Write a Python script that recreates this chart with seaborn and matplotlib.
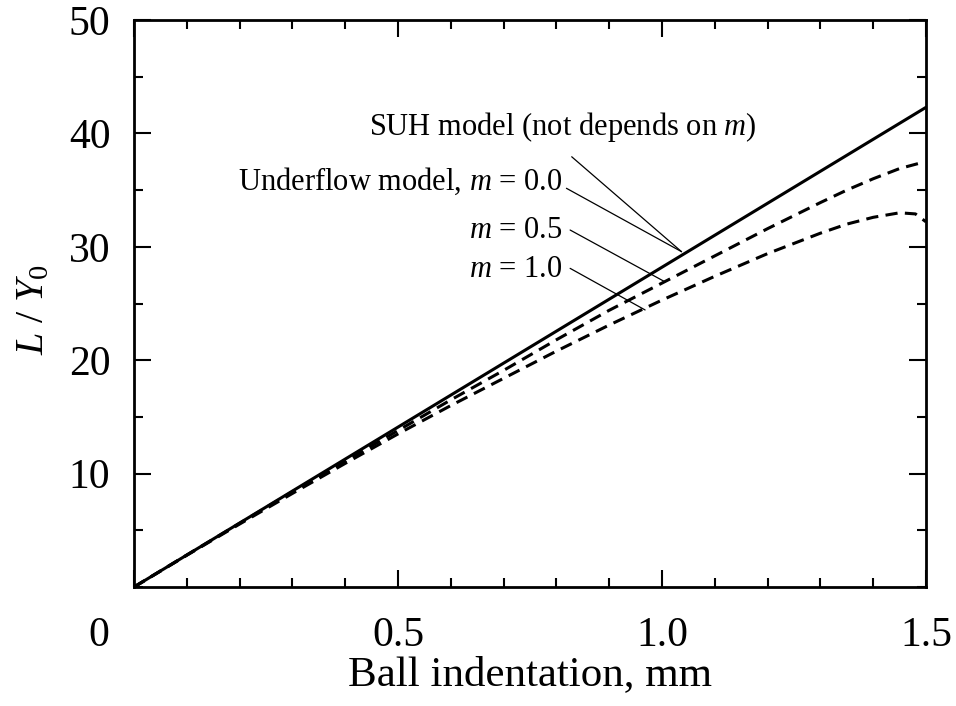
import numpy as np
import pandas as pd
import matplotlib
matplotlib.use("Agg")
import matplotlib.pyplot as plt
import seaborn as sns

# ---- data ----
x_suh = [0.0, 1.5]
y_suh = [0.0, 42.3]

x_m05 = [0.0, 0.1, 0.2, 0.3, 0.4, 0.5, 0.6, 0.7, 0.8, 0.9, 1.0, 1.1, 1.2, 1.3, 1.35, 1.4, 1.45, 1.49]
y_m05 = [0.0, 2.82, 5.62, 8.4, 11.1, 13.8, 16.5, 19.1, 21.8, 24.4, 26.8, 29.2, 31.6, 33.9, 35.0, 36.0, 36.9, 37.4]

x_m10 = [0.0, 0.1, 0.2, 0.3, 0.4, 0.5, 0.6, 0.7, 0.8, 0.9, 1.0, 1.1, 1.2, 1.3, 1.35, 1.4, 1.45, 1.48, 1.5]
y_m10 = [0.0, 2.8, 5.55, 8.25, 10.9, 13.5, 16.0, 18.4, 20.8, 23.1, 25.3, 27.4, 29.4, 31.2, 32.0, 32.6, 33.0, 32.9, 32.2]

x_major = [0.0, 0.5, 1.0, 1.5]
x_major_labels = ["", "0.5", "1.0", "1.5"]
y_major = [10, 20, 30, 40, 50]
y_major_labels = ["10", "20", "30", "40", "50"]

annot_texts = ["SUH model (not depends on $m$)", "Underflow model, $m$ = 0.0", "$m$ = 0.5", "$m$ = 1.0"]
annot_text_xy = [(1.18, 39.86), (0.812, 35.0), (0.812, 30.75), (0.812, 27.36)]
annot_start = [(0.829, 37.94), (0.819, 35.16), (0.826, 31.48), (0.826, 28.1)]
annot_end = [(1.037, 29.57), (1.037, 29.57), (1.0057, 26.91), (0.968, 24.43)]

# ---- style ----
sns.set_theme(style="ticks")
plt.rcParams["font.family"] = ["Liberation Serif", "DejaVu Serif"]
plt.rcParams["mathtext.fontset"] = "custom"
plt.rcParams["mathtext.rm"] = "Liberation Serif"
plt.rcParams["mathtext.it"] = "Liberation Serif:italic"
plt.rcParams["mathtext.bf"] = "Liberation Serif:bold"
for key in ["text.color", "axes.labelcolor", "xtick.color", "ytick.color", "axes.edgecolor"]:
    plt.rcParams[key] = "black"

fig = plt.figure(figsize=(9.56, 7.06), dpi=100)
ax = fig.add_axes([134 / 956, 119 / 706, 792 / 956, 567 / 706])

lw = 2.2
sns.lineplot(x=x_suh, y=y_suh, ax=ax, color="black", lw=lw, sort=False, estimator=None)
sns.lineplot(x=x_m05, y=y_m05, ax=ax, color="black", lw=lw, sort=False, estimator=None,
             linestyle=(0, (4, 2.4)))
sns.lineplot(x=x_m10, y=y_m10, ax=ax, color="black", lw=lw, sort=False, estimator=None,
             linestyle=(0, (4, 2.4)))

ax.set_xlim(0, 1.5)
ax.set_ylim(0, 50)
ax.set_xticks(x_major)
ax.set_xticklabels(x_major_labels)
ax.set_xticks(np.arange(0, 1.5001, 0.1), minor=True)
ax.set_yticks(y_major)
ax.set_yticklabels(y_major_labels)
ax.set_yticks(np.arange(0, 50.001, 5), minor=True)

ax.tick_params(which="both", direction="in", top=True, right=True, width=1.5, colors="black")
ax.tick_params(which="major", length=12.5)
ax.tick_params(which="minor", length=6.5)
ax.tick_params(axis="x", which="major", labelsize=30, pad=21)
ax.tick_params(axis="y", which="major", labelsize=30, pad=17)

for s in ax.spines.values():
    s.set_linewidth(2.0)
    s.set_color("black")

# origin label "0" shifted to the left of the corner
ax.annotate("0", xy=(0, 0), xycoords=ax.get_xaxis_transform(), xytext=(-25.6, -21),
            textcoords="offset points", ha="center", va="top", fontsize=30, color="black")

ax.set_xlabel("Ball indentation, mm", fontsize=31, labelpad=1, color="black")
ax.set_ylabel(r"$L\ /\ Y_0$", fontsize=29, va="center", color="black")
ax.yaxis.set_label_coords(-0.126, 0.4885)

for txt, (tx, ty), st, en in zip(annot_texts, annot_text_xy, annot_start, annot_end):
    ax.text(tx, ty, txt, ha="right", va="baseline", fontsize=22, color="black")
    ax.annotate("", xy=en, xytext=st, arrowprops=dict(arrowstyle="-", lw=0.9, color="black",
                                                     shrinkA=0, shrinkB=0))

fig.savefig("out.png", dpi=100)
